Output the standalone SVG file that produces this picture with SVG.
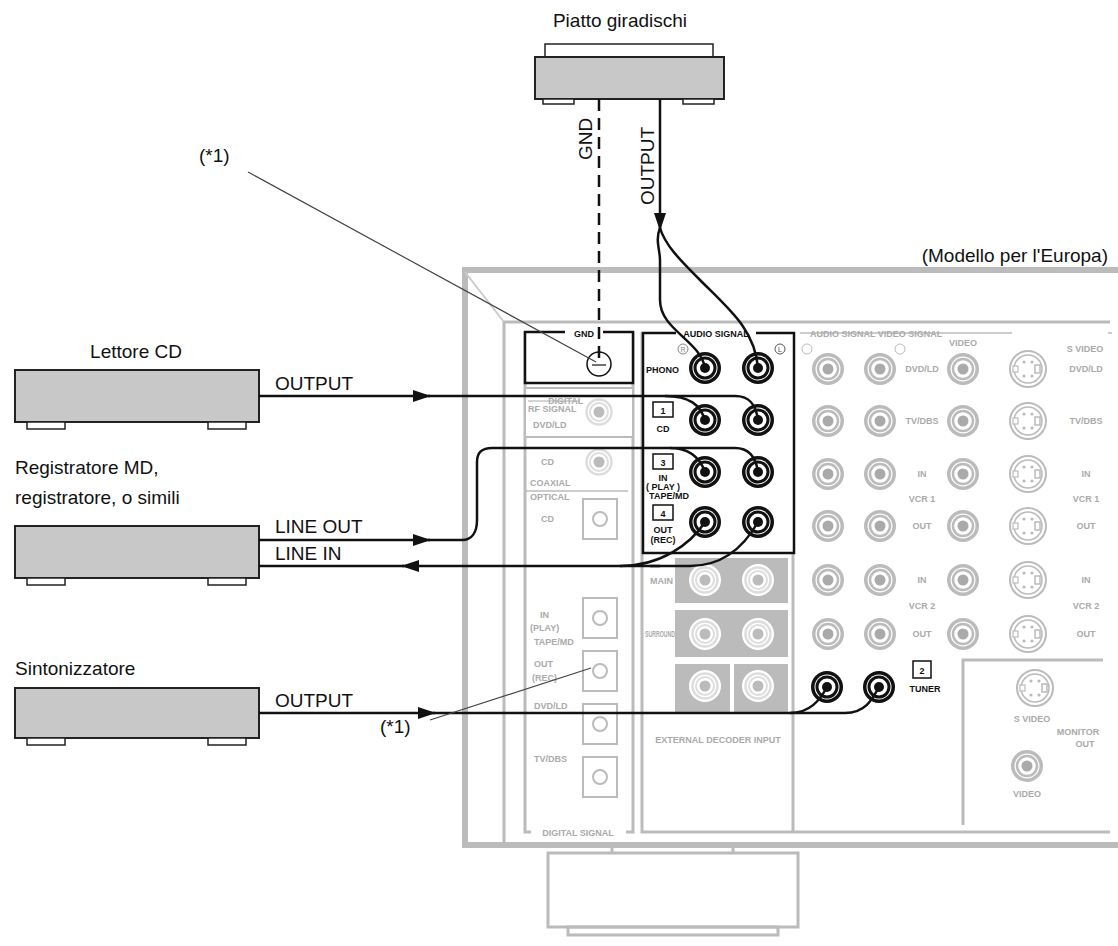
<svg xmlns="http://www.w3.org/2000/svg" width="1118" height="946" viewBox="0 0 1118 946">
<style>
.lbl{font-family:"Liberation Sans",Arial,sans-serif;font-size:19px;fill:#111}
.pl{font-family:"Liberation Sans",Arial,sans-serif;font-size:9px;font-weight:bold;fill:#aaa}
.pk{font-family:"Liberation Sans",Arial,sans-serif;font-size:9px;font-weight:bold;fill:#111}
.fr{fill:none;stroke:#bbb;stroke-width:3}
.frt{fill:none;stroke:#bbb;stroke-width:6}
.dev{fill:#c8c8c8;stroke:#222;stroke-width:2}
.foot{fill:#fff;stroke:#222;stroke-width:1.5}
.cab{fill:none;stroke:#111;stroke-width:2.5}
.thin{fill:none;stroke:#444;stroke-width:1.2}
.gbox{fill:#bbb}
.sq{fill:#fff;stroke:#bbb;stroke-width:2}
</style>
<defs>
<marker id="ar" markerWidth="18" markerHeight="12" refX="17" refY="6" orient="auto" markerUnits="userSpaceOnUse"><path d="M0,0 L18,6 L0,12 Z" fill="#111"/></marker>
<g id="bj"><circle r="16" fill="#111"/><circle r="12.5" fill="#fff"/><circle r="10" fill="none" stroke="#111" stroke-width="3"/><circle r="5" fill="#111"/></g>
<g id="gj"><circle r="16" fill="#bbb"/><circle r="12.5" fill="#fff"/><circle r="10" fill="none" stroke="#bbb" stroke-width="2.5"/><circle r="5.5" fill="#aaa"/></g>
<g id="wj"><circle r="16" fill="#fff"/><circle r="12.5" fill="none" stroke="#ddd" stroke-width="2.5"/><circle r="9" fill="none" stroke="#ddd" stroke-width="2"/><circle r="5.5" fill="#bbb"/></g>
<g id="sv"><circle r="18" fill="#fff" stroke="#bbb" stroke-width="2"/><circle r="14" fill="none" stroke="#bbb" stroke-width="1.5"/><circle cx="-4" cy="-7" r="1.6" fill="#bbb"/><circle cx="4" cy="-7" r="1.6" fill="#bbb"/><circle cx="-4" cy="7" r="1.6" fill="#bbb"/><circle cx="4" cy="7" r="1.6" fill="#bbb"/><rect x="7" y="-4" width="5" height="8" fill="none" stroke="#bbb" stroke-width="1.5"/><rect x="-15" y="-3" width="5" height="6" fill="#fff" stroke="#bbb" stroke-width="1.2"/></g>
</defs>

<g id="receiver">
<path class="frt" d="M1118,270 H465 V845 H1118"/>
<path class="fr" d="M1110,322 H504 V845"/>
<line x1="465" y1="272" x2="504" y2="322" stroke="#ccc" stroke-width="2"/>
<line x1="612" y1="845" x2="612" y2="853" class="fr"/>
<line x1="733" y1="845" x2="733" y2="853" class="fr"/>
<rect x="548" y="853" width="250" height="74" class="fr"/>
<rect x="568" y="927" width="210" height="8" class="fr"/>
<path class="fr" d="M525,332 V832 H531 M626,832 H633 V332"/>
<text class="pl" x="578" y="836" text-anchor="middle">DIGITAL SIGNAL</text>
<rect x="525" y="388" width="108" height="49" class="sq"/>
<text class="pl" x="548" y="404" font-size="7">DIGITAL</text>
<line x1="528" y1="401" x2="580" y2="401" stroke="#aaa" stroke-width="1"/>
<text class="pl" x="528" y="412">RF SIGNAL</text>
<text class="pl" x="533" y="428">DVD/LD</text>
<use href="#wj" x="599" y="412"/>
<text class="pl" x="541" y="465">CD</text>
<use href="#wj" x="599" y="462"/>
<text class="pl" x="530" y="486">COAXIAL</text>
<line x1="525" y1="491" x2="628" y2="491" stroke="#bbb" stroke-width="1.5"/>
<text class="pl" x="530" y="500">OPTICAL</text>
<text class="pl" x="541" y="522">CD</text>
<rect x="583" y="499" width="34" height="40" class="sq"/><circle cx="600" cy="519" r="7" class="sq"/>
<text class="pl" x="540" y="618">IN</text>
<text class="pl" x="530" y="631">(PLAY)</text>
<text class="pl" x="534" y="645">TAPE/MD</text>
<text class="pl" x="534" y="667">OUT</text>
<text class="pl" x="532" y="681">(REC)</text>
<text class="pl" x="534" y="709">DVD/LD</text>
<text class="pl" x="534" y="762">TV/DBS</text>
<rect x="583" y="598" width="34" height="40" class="sq"/><circle cx="600" cy="618" r="7" class="sq"/>
<rect x="583" y="651" width="34" height="40" class="sq"/><circle cx="600" cy="671" r="7" class="sq"/>
<rect x="583" y="704" width="34" height="40" class="sq"/><circle cx="600" cy="724" r="7" class="sq"/>
<rect x="583" y="757" width="34" height="40" class="sq"/><circle cx="600" cy="777" r="7" class="sq"/>
<rect x="525" y="332" width="108" height="51" fill="#fff" stroke="#111" stroke-width="2.5"/>
<rect x="565" y="326" width="38" height="12" fill="#fff"/>
<text class="pk" x="584" y="337" text-anchor="middle" font-size="10">GND</text>
<circle cx="599" cy="364" r="12" fill="#fff" stroke="#111" stroke-width="1.5"/>
<line x1="592" y1="365" x2="606" y2="365" stroke="#111" stroke-width="1.2"/>
<path class="fr" d="M642,332 V832 H1110 M793,553 V832"/>
<rect x="675" y="558" width="113" height="45" class="gbox"/>
<rect x="675" y="610" width="113" height="47" class="gbox"/>
<rect x="675" y="664" width="55" height="48" class="gbox"/>
<rect x="734" y="664" width="54" height="48" class="gbox"/>
<text class="pl" x="650" y="584">MAIN</text>
<text class="pl" x="645" y="637" font-size="7" textLength="30" lengthAdjust="spacingAndGlyphs">SURROUND</text>
<use href="#wj" x="705" y="580"/><use href="#wj" x="758" y="580"/>
<use href="#wj" x="705" y="634"/><use href="#wj" x="758" y="634"/>
<use href="#wj" x="705" y="686"/><use href="#wj" x="758" y="686"/>
<text class="pl" x="718" y="743" text-anchor="middle">EXTERNAL DECODER INPUT</text>
<rect x="643" y="333" width="151" height="220" fill="none" stroke="#111" stroke-width="2.5"/>
<rect x="676" y="326" width="80" height="12" fill="#fff"/>
<text class="pk" x="716" y="337" text-anchor="middle" font-size="10">AUDIO SIGNAL</text>
<circle cx="683" cy="349" r="5" fill="#fff" stroke="#888" stroke-width="1"/><text x="683" y="352" font-size="7" text-anchor="middle" font-family="Liberation Sans,sans-serif" fill="#888">R</text>
<circle cx="780" cy="349" r="5" fill="#fff" stroke="#555" stroke-width="1"/><text x="780" y="352" font-size="7" text-anchor="middle" font-family="Liberation Sans,sans-serif" fill="#555">L</text>
<text class="pk" x="646" y="373">PHONO</text>
<rect x="653" y="402" width="20" height="15" fill="#fff" stroke="#111" stroke-width="1.5"/><text class="pk" x="663" y="414" text-anchor="middle" font-size="12">1</text>
<text class="pk" x="663" y="432" text-anchor="middle">CD</text>
<rect x="653" y="454" width="20" height="15" fill="#fff" stroke="#111" stroke-width="1.5"/><text class="pk" x="663" y="466" text-anchor="middle" font-size="12">3</text>
<text class="pk" x="663" y="481" text-anchor="middle">IN</text>
<text class="pk" x="663" y="490" text-anchor="middle" font-size="6">( PLAY )</text>
<text class="pk" x="669" y="499" text-anchor="middle">TAPE/MD</text>
<rect x="653" y="505" width="20" height="15" fill="#fff" stroke="#111" stroke-width="1.5"/><text class="pk" x="663" y="517" text-anchor="middle" font-size="12">4</text>
<text class="pk" x="663" y="533" text-anchor="middle">OUT</text>
<text class="pk" x="663" y="543" text-anchor="middle" font-size="6">(REC)</text>
<use href="#bj" x="705" y="368"/><use href="#bj" x="758" y="368"/>
<use href="#bj" x="705" y="420"/><use href="#bj" x="758" y="420"/>
<use href="#bj" x="705" y="472"/><use href="#bj" x="758" y="472"/>
<use href="#bj" x="705" y="522"/><use href="#bj" x="758" y="522"/>
<line x1="800" y1="333" x2="1012" y2="333" stroke="#bbb" stroke-width="1.5"/>
<line x1="1108" y1="333" x2="1112" y2="333" stroke="#bbb" stroke-width="1.5"/>
<text class="pl" x="810" y="337">AUDIO SIGNAL VIDEO SIGNAL</text>
<text class="pl" x="963" y="346" text-anchor="middle">VIDEO</text>
<text class="pl" x="1085" y="352" text-anchor="middle">S VIDEO</text>
<circle cx="807" cy="349" r="5" fill="#fff" stroke="#bbb"/><circle cx="900" cy="349" r="5" fill="#fff" stroke="#bbb"/>
<g>
<use href="#gj" x="828" y="369"/><use href="#gj" x="880" y="369"/><use href="#gj" x="963" y="369"/><use href="#sv" x="1028" y="369"/>
<use href="#gj" x="828" y="421"/><use href="#gj" x="880" y="421"/><use href="#gj" x="963" y="421"/><use href="#sv" x="1028" y="421"/>
<use href="#gj" x="828" y="474"/><use href="#gj" x="880" y="474"/><use href="#gj" x="963" y="474"/><use href="#sv" x="1028" y="474"/>
<use href="#gj" x="828" y="526"/><use href="#gj" x="880" y="526"/><use href="#gj" x="963" y="526"/><use href="#sv" x="1028" y="526"/>
<use href="#gj" x="828" y="580"/><use href="#gj" x="880" y="580"/><use href="#gj" x="963" y="580"/><use href="#sv" x="1028" y="580"/>
<use href="#gj" x="828" y="634"/><use href="#gj" x="880" y="634"/><use href="#gj" x="963" y="634"/><use href="#sv" x="1028" y="634"/>
</g>
<g class="pl" text-anchor="middle">
<text x="922" y="372">DVD/LD</text><text x="1086" y="372">DVD/LD</text>
<text x="922" y="424">TV/DBS</text><text x="1086" y="424">TV/DBS</text>
<text x="922" y="477">IN</text><text x="1086" y="477">IN</text>
<text x="922" y="502">VCR 1</text><text x="1086" y="502">VCR 1</text>
<text x="922" y="529">OUT</text><text x="1086" y="529">OUT</text>
<text x="922" y="583">IN</text><text x="1086" y="583">IN</text>
<text x="922" y="609">VCR 2</text><text x="1086" y="609">VCR 2</text>
<text x="922" y="637">OUT</text><text x="1086" y="637">OUT</text>
</g>
<path class="fr" d="M963,825 V660 H1103"/>
<use href="#sv" x="1035" y="688"/>
<text class="pl" x="1032" y="722" text-anchor="middle">S VIDEO</text>
<text class="pl" x="1078" y="735" text-anchor="middle">MONITOR</text>
<text class="pl" x="1085" y="747" text-anchor="middle">OUT</text>
<use href="#gj" x="1027" y="766"/>
<text class="pl" x="1027" y="797" text-anchor="middle">VIDEO</text>
<use href="#bj" x="827" y="687"/><use href="#bj" x="879" y="687"/>
<rect x="913" y="661" width="18" height="17" fill="#fff" stroke="#111" stroke-width="1.5"/><text class="pk" x="922" y="674" text-anchor="middle" font-size="11">2</text>
<text class="pk" x="925" y="692" text-anchor="middle">TUNER</text>
<text class="lbl" x="1108" y="262" text-anchor="end">(Modello per l'Europa)</text>
</g>

<g id="turntable">
<text class="lbl" x="620" y="27" text-anchor="middle">Piatto giradischi</text>
<rect x="545" y="44" width="168" height="13" fill="#fff" stroke="#222" stroke-width="1.5"/>
<rect x="535" y="57" width="189" height="42" class="dev"/>
<rect x="543" y="99" width="31" height="5" class="foot"/>
<rect x="683" y="99" width="31" height="5" class="foot"/>
</g>
<g id="cd-player">
<text class="lbl" x="136" y="358" text-anchor="middle">Lettore CD</text>
<rect x="15" y="370" width="244" height="52" class="dev"/>
<rect x="27" y="422" width="38" height="7" class="foot"/>
<rect x="208" y="422" width="38" height="7" class="foot"/>
</g>
<g id="md-recorder">
<text class="lbl" x="15" y="474">Registratore MD,</text>
<text class="lbl" x="15" y="504">registratore, o simili</text>
<rect x="15" y="526" width="244" height="52" class="dev"/>
<rect x="27" y="578" width="38" height="7" class="foot"/>
<rect x="208" y="578" width="38" height="7" class="foot"/>
</g>
<g id="tuner">
<text class="lbl" x="15" y="675">Sintonizzatore</text>
<rect x="15" y="688" width="244" height="50" class="dev"/>
<rect x="27" y="738" width="38" height="7" class="foot"/>
<rect x="208" y="738" width="38" height="7" class="foot"/>
</g>

<g id="connectors">
<line x1="599" y1="99" x2="599" y2="364" stroke="#111" stroke-width="2.5" stroke-dasharray="12,7"/>
<text class="lbl" transform="translate(592,160) rotate(-90)">GND</text>
<text class="lbl" transform="translate(654,205) rotate(-90)">OUTPUT</text>
<line x1="660" y1="99" x2="660" y2="230" class="cab" marker-end="url(#ar)"/>
<path class="cab" d="M660,228 C655,240 660,250 660,260 V300 C660,330 700,340 705,368"/>
<path class="cab" d="M660,228 C665,245 680,260 700,280 C730,310 755,330 758,368"/>
<line x1="259" y1="396" x2="430" y2="396" class="cab" marker-end="url(#ar)"/>
<text class="lbl" x="275" y="390">OUTPUT</text>
<path class="cab" d="M428,396 H665 C690,396 700,405 705,420"/>
<path class="cab" d="M665,396 H735 C750,396 756,405 758,420"/>
<text class="lbl" x="275" y="533">LINE OUT</text>
<line x1="259" y1="540" x2="430" y2="540" class="cab" marker-end="url(#ar)"/>
<path class="cab" d="M428,540 H462 C472,540 477,532 477,520 V462 C477,452 482,448 492,448 H670 C690,448 700,458 705,472"/>
<path class="cab" d="M670,448 H735 C750,448 756,458 758,472"/>
<text class="lbl" x="275" y="560">LINE IN</text>
<line x1="660" y1="566" x2="402" y2="566" class="cab" marker-end="url(#ar)"/>
<line x1="404" y1="566" x2="259" y2="566" class="cab"/>
<path class="cab" d="M620,566 C660,566 690,545 705,522"/>
<path class="cab" d="M650,566 H690 C725,566 745,545 758,522"/>
<text class="lbl" x="275" y="707">OUTPUT</text>
<line x1="259" y1="713" x2="435" y2="713" class="cab" marker-end="url(#ar)"/>
<path class="cab" d="M433,713 H790 C810,713 820,700 827,687"/>
<path class="cab" d="M790,713 H845 C865,713 872,700 879,687"/>
<text class="lbl" x="199" y="162">(*1)</text>
<line x1="248" y1="172" x2="596" y2="362" class="thin"/>
<text class="lbl" x="380" y="733">(*1)</text>
<line x1="430" y1="720" x2="591" y2="668" class="thin"/>
</g>
</svg>
